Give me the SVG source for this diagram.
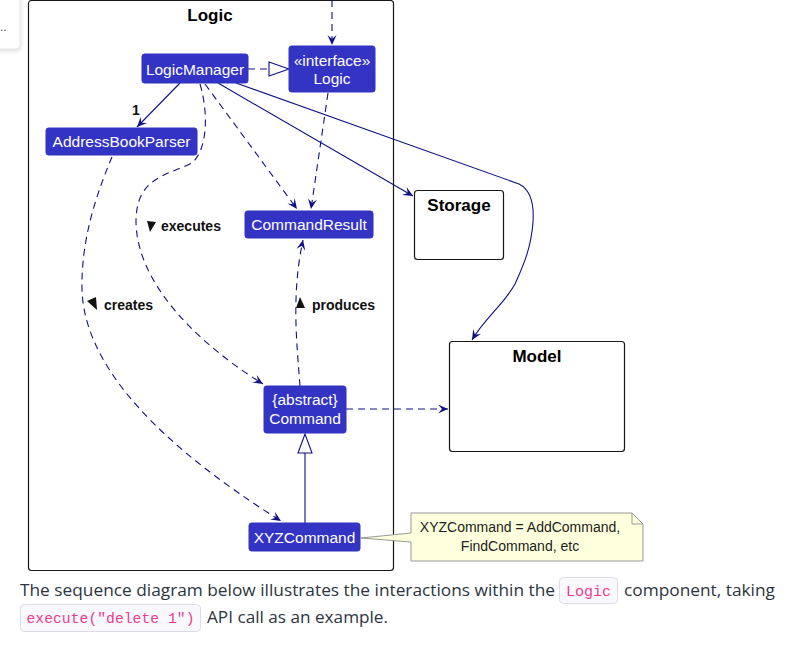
<svg xmlns="http://www.w3.org/2000/svg" width="792" height="657" viewBox="0 0 792 657">
<defs>
<style>
.node rect{fill:#3333C4;stroke:#3333C4;stroke-width:1}
.nt{font-family:"Liberation Sans",Arial,sans-serif;font-size:15.5px;fill:#FFFFFF;text-anchor:middle}
.pkg{fill:#FFFFFF;stroke:#181818;stroke-width:1.2}
.pt{font-family:"Liberation Sans",Arial,sans-serif;font-size:17px;font-weight:bold;fill:#000000;text-anchor:middle}
.ln{fill:none;stroke:#101086;stroke-width:1.1}
.dl{fill:none;stroke:#101086;stroke-width:1.1;stroke-dasharray:7 5}
.lb{font-family:"Liberation Sans",Arial,sans-serif;font-size:14px;font-weight:bold;fill:#111111}
.tri{fill:#111111}
.body{font-family:"Open Sans","Noto Sans",sans-serif;font-size:17px;fill:#2c3440}
.code{font-family:"Liberation Mono","DejaVu Sans Mono",monospace;font-size:15px;fill:#e83e8c}
.cbox{fill:#f9f8fd;stroke:#dcdce6;stroke-width:1}
</style>
<marker id="arr" viewBox="-11 -6 12 12" refX="0" refY="0" markerWidth="12" markerHeight="12" orient="auto" markerUnits="userSpaceOnUse">
<path d="M0,0 L-10,-4.5 L-6,0 L-10,4.5 Z" fill="#101086"/>
</marker>
<filter id="sh" x="-50%" y="-50%" width="200%" height="200%">
<feDropShadow dx="0" dy="1" stdDeviation="2" flood-color="#000" flood-opacity="0.18"/>
</filter>
</defs>
<rect width="792" height="657" fill="#FFFFFF"/>

<!-- popup fragment top-left -->
<g id="popup">
<rect x="-10" y="-10" width="30" height="59" rx="4" fill="#FFFFFF" stroke="#e6e6e6" filter="url(#sh)"/>
<text x="0" y="31" font-family="Liberation Sans,Arial,sans-serif" font-size="12" fill="#555">..</text>
</g>

<!-- package Logic -->
<g id="Logic-package">
<rect class="pkg" x="28.5" y="0.5" width="365" height="570" rx="3"/>
<text class="pt" x="210" y="21">Logic</text>
</g>

<!-- external packages -->
<g id="Storage">
<rect class="pkg" x="414.5" y="190.5" width="89" height="69" rx="3"/>
<text class="pt" x="459" y="211">Storage</text>
</g>
<g id="Model">
<rect class="pkg" x="449.5" y="341.5" width="175" height="110" rx="3"/>
<text class="pt" x="537" y="362">Model</text>
</g>

<!-- connectors -->
<g id="connectors">
<!-- incoming to Logic interface -->
<line class="dl" x1="332" y1="0" x2="332" y2="45" marker-end="url(#arr)"/>
<!-- realization LogicManager -> Logic -->
<line class="dl" x1="248" y1="69" x2="269" y2="69"/>
<polygon points="289,69 269,62 269,76" fill="#FFFFFF" stroke="#101086" stroke-width="1.1"/>
<!-- LogicManager -> AddressBookParser -->
<line class="ln" x1="180" y1="83" x2="137" y2="127" marker-end="url(#arr)"/>
<!-- LogicManager -> CommandResult -->
<line class="dl" x1="205" y1="84" x2="297" y2="209" marker-end="url(#arr)"/>
<!-- Logic -> CommandResult -->
<line class="dl" x1="328" y1="93" x2="311" y2="209" marker-end="url(#arr)"/>
<!-- LogicManager -> Storage -->
<line class="ln" x1="218" y1="83" x2="413" y2="196" marker-end="url(#arr)"/>
<!-- LogicManager -> Model -->
<path class="ln" d="M236,83 L519,184 Q535,192 533,222 C531,250 522,268 515,284 C505,303 485,318 472,340" marker-end="url(#arr)"/>
<!-- executes: LogicManager -> Command -->
<path class="dl" d="M200,84 C209,115 207,150 192,163 C165,176 136,178 136,222 C137,285 200,345 263,384" marker-end="url(#arr)"/>
<!-- creates: AddressBookParser -> XYZCommand -->
<path class="dl" d="M112,157 C96,195 81,240 82,290 C85,385 200,470 281,521" marker-end="url(#arr)"/>
<!-- produces: Command -> CommandResult -->
<path class="dl" d="M300,386 C297,345 291,295 303,240" marker-end="url(#arr)"/>
<!-- Command -> Model -->
<line class="dl" x1="346" y1="409" x2="448" y2="409" marker-end="url(#arr)"/>
<!-- generalization XYZCommand -> Command -->
<line class="ln" x1="305" y1="523" x2="305" y2="453"/>
<polygon points="305,434 298,453 312,453" fill="#FFFFFF" stroke="#101086" stroke-width="1.1"/>
<!-- labels -->
<text class="lb" x="132" y="115">1</text>
<polygon class="tri" points="147,221 156,222 150,232"/>
<text class="lb" x="161" y="231">executes</text>
<polygon class="tri" points="96,297 97,310 87,301"/>
<text class="lb" x="104" y="310">creates</text>
<polygon class="tri" points="300,297 305,308 296,308"/>
<text class="lb" x="312" y="310">produces</text>
</g>

<!-- nodes -->
<g id="LogicManager" class="node">
<rect x="142" y="54" width="106" height="29" rx="2.5"/>
<text class="nt" x="195" y="75">LogicManager</text>
</g>
<g id="LogicInterface" class="node">
<rect x="289" y="46" width="86" height="46" rx="2.5"/>
<text class="nt" x="332" y="66">«interface»</text>
<text class="nt" x="332" y="84">Logic</text>
</g>
<g id="AddressBookParser" class="node">
<rect x="46" y="128" width="151" height="27" rx="2.5"/>
<text class="nt" x="121.5" y="147">AddressBookParser</text>
</g>
<g id="CommandResult" class="node">
<rect x="245" y="211" width="128" height="27" rx="2.5"/>
<text class="nt" x="309" y="230">CommandResult</text>
</g>
<g id="Command" class="node">
<rect x="264" y="386" width="82" height="47" rx="2.5"/>
<text class="nt" x="305" y="405">{abstract}</text>
<text class="nt" x="305" y="424">Command</text>
</g>
<g id="XYZCommand" class="node">
<rect x="249" y="523" width="111" height="28" rx="2.5"/>
<text class="nt" x="304.5" y="543">XYZCommand</text>
</g>

<!-- note -->
<g id="note">
<path d="M411,513 L632,513 L643,524 L643,561 L411,561 L411,542 L361,538 L411,533 Z" fill="#FEFFDD" stroke="#999999" stroke-width="1"/>
<path d="M632,513 L632,524 L643,524" fill="none" stroke="#999999" stroke-width="1"/>
<text x="520" y="532" font-family="Liberation Sans,Arial,sans-serif" font-size="14" fill="#222" text-anchor="middle">XYZCommand = AddCommand,</text>
<text x="520" y="551" font-family="Liberation Sans,Arial,sans-serif" font-size="14" fill="#222" text-anchor="middle">FindCommand, etc</text>
</g>

<!-- page text below -->
<g id="caption">
<text class="body" x="20" y="596" textLength="535" lengthAdjust="spacingAndGlyphs">The sequence diagram below illustrates the interactions within the</text>
<rect class="cbox" x="559.5" y="577.5" width="58" height="26" rx="4"/>
<text class="code" x="588.5" y="596" text-anchor="middle">Logic</text>
<text class="body" x="624" y="596" textLength="151" lengthAdjust="spacingAndGlyphs">component, taking</text>
<rect class="cbox" x="20.5" y="604.5" width="180" height="27" rx="4"/>
<text class="code" x="110.5" y="623" text-anchor="middle" textLength="168" lengthAdjust="spacingAndGlyphs">execute("delete 1")</text>
<text class="body" x="207" y="623" textLength="181" lengthAdjust="spacingAndGlyphs">API call as an example.</text>
</g>
</svg>
